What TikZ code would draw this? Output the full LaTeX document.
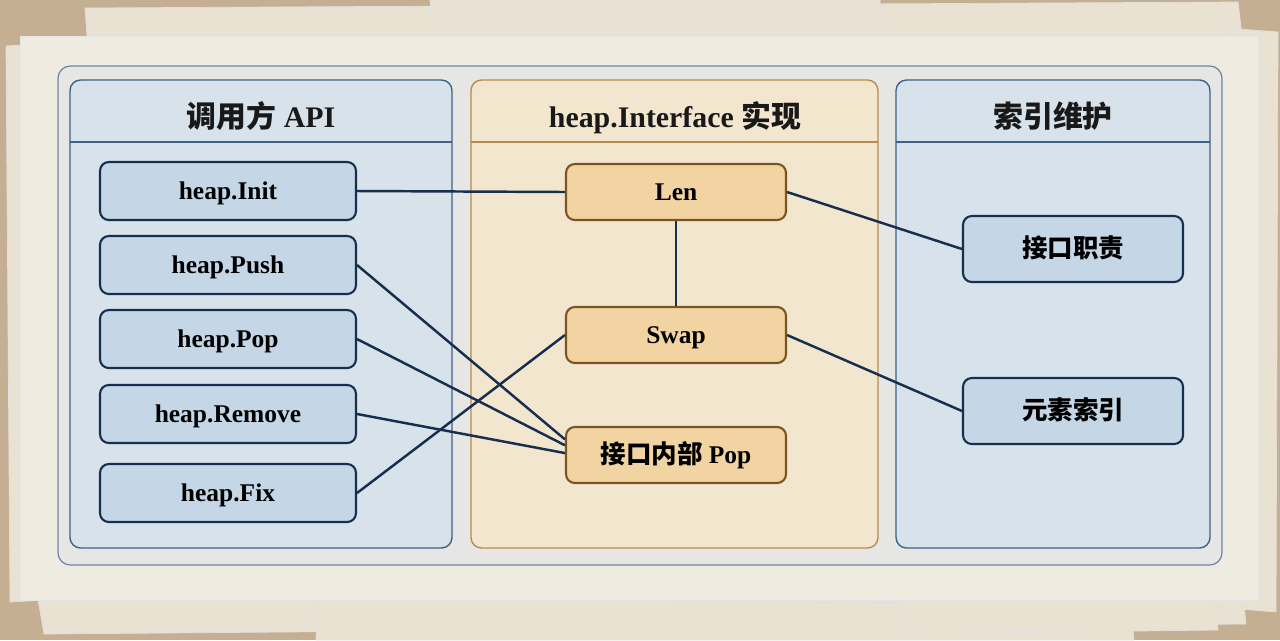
\documentclass[tikz,border=0pt]{standalone}
\usepackage{fontspec}
\setmainfont{Liberation Serif}
\newfontfamily\cjk{Noto Sans CJK SC}
\usetikzlibrary{positioning}

\definecolor{woodtan}{HTML}{C4AF92}
\definecolor{paperback}{HTML}{E9E2D2}
\definecolor{papermain}{HTML}{EFEBE1}
\definecolor{framefill}{HTML}{E6E7E4}
\definecolor{frameline}{HTML}{6A86A3}
\definecolor{bluepanel}{HTML}{D7E2EB}
\definecolor{blueedge}{HTML}{3E6189}
\definecolor{orangepanel}{HTML}{F3E6CE}
\definecolor{orangeedge}{HTML}{B58C4D}
\definecolor{apifill}{HTML}{C5D7E7}
\definecolor{implfill}{HTML}{F2D4A3}
\definecolor{impledge}{HTML}{7C5422}
\definecolor{navy}{HTML}{172F4E}

\tikzset{
  sheet/.style={fill=paperback, draw=black!12, line width=0.4pt},
  panelblue/.style={fill=bluepanel, draw=blueedge, line width=0.8pt, rounded corners=6pt},
  panelorange/.style={fill=orangepanel, draw=orangeedge, line width=0.8pt, rounded corners=6pt},
  paneltitle/.style={font=\fontsize{17}{20}\selectfont\bfseries, text=black!90,
    text height=11.5pt, text depth=0pt},
  boxtext/.style={font=\fontsize{14.5}{17}\selectfont\bfseries, text height=9.8pt, text depth=0pt},
  apibox/.style={boxtext, draw=navy, fill=apifill, line width=1.2pt, rounded corners=5pt,
    minimum width=5.12cm, minimum height=1.16cm},
  implbox/.style={boxtext, draw=impledge, fill=implfill, line width=1.2pt, rounded corners=5pt,
    minimum width=4.4cm, minimum height=1.12cm},
  idxbox/.style={boxtext, draw=navy, fill=apifill, line width=1.2pt, rounded corners=5pt,
    minimum width=4.4cm, minimum height=1.32cm},
  link/.style={draw=navy, line width=1.4pt}
}

\begin{document}
\begin{tikzpicture}[x=0.02cm, y=-0.02cm]
    \useasboundingbox (0,0) rectangle (1280,640);
    % desk and paper stack
    \fill[woodtan] (0,0) rectangle (1280,640);
    \draw[sheet] (85,8) -- (1238,2) -- (1243,44) -- (88,50) -- cycle;
    \draw[sheet] (430,0) -- (880,0) -- (882,30) -- (432,30) -- cycle;
    \draw[sheet] (6,46) -- (40,44) -- (44,600) -- (10,602) -- cycle;
    \draw[sheet] (1225,28) -- (1278,32) -- (1276,612) -- (1228,608) -- cycle;
    \draw[sheet] (36,588) -- (1242,584) -- (1246,624) -- (44,634) -- cycle;
    \draw[sheet] (318,598) -- (1130,604) -- (1134,640) -- (316,640) -- cycle;
    \draw[sheet] (900,600) -- (1215,598) -- (1218,630) -- (905,634) -- cycle;
    \fill[papermain] (20,36) rectangle (1258,600);
    \draw[black!10] (20,36) rectangle (1258,600);

    % outer frame
    \draw[fill=framefill, draw=frameline, line width=0.7pt, rounded corners=7pt]
        (58,66) rectangle (1222,565);

    % panels
    \draw[panelblue] (70,80) rectangle (452,548);
    \draw[blueedge, line width=0.6pt] (70,142) -- (452,142);
    \draw[panelorange] (471,80) rectangle (878,548);
    \draw[orangeedge, line width=0.6pt] (471,142) -- (878,142);
    \draw[panelblue] (896,80) rectangle (1210,548);
    \draw[blueedge, line width=0.6pt] (896,142) -- (1210,142);

    \node[paneltitle] (tapi) at (261,117) {{\cjk 调用方} API};
    \node[paneltitle] (timpl) at (675,117) {heap.Interface {\cjk 实现}};
    \node[paneltitle] (tidx) at (1053,117) {\cjk 索引维护};

    % caller side
    \node[apibox] (init) at (228,191) {heap.Init};
    \node[apibox] (push) at (228,265) {heap.Push};
    \node[apibox] (pop) at (228,339) {heap.Pop};
    \node[apibox] (remove) at (228,414) {heap.Remove};
    \node[apibox] (fix) at (228,493) {heap.Fix};

    % interface methods
    \node[implbox] (len) at (676,192) {Len};
    \node[implbox] (swap) at (676,335) {Swap};
    \node[implbox] (ipop) at (676,455) {{\cjk 接口内部} Pop};

    % index side
    \node[idxbox] (duty) at (1073,249) {\cjk 接口职责};
    \node[idxbox] (index) at (1073,411) {\cjk 元素索引};

    % links
    \draw[link] (init.east) -- (len.west);
    \draw[link] (len.south) -- (swap.north);
    \draw[link] (len.east) -- (duty.west);
    \draw[link] (swap.east) -- (index.west);
    \draw[link] (push.east) -- (ipop.172);
    \draw[link] (pop.east) -- (ipop.175);
    \draw[link] (remove.east) -- (ipop.179);
    \draw[link] (fix.east) -- (swap.west);
\end{tikzpicture}
\end{document}
